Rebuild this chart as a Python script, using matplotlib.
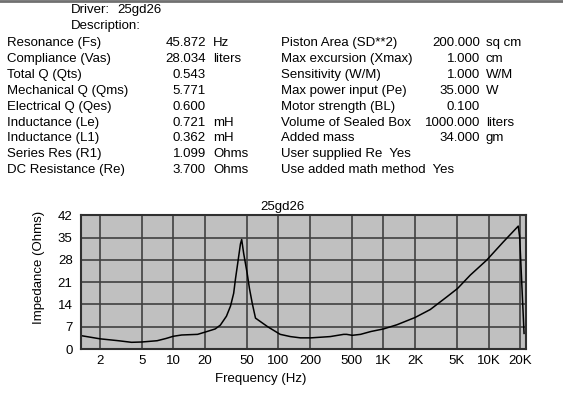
import matplotlib
matplotlib.use("Agg")
import matplotlib.pyplot as plt
from matplotlib.lines import Line2D

plt.rcParams['font.family'] = ['Liberation Sans', 'DejaVu Sans']
plt.rcParams['font.size'] = 9.5

W, H = 563, 420

# driver parameters
driver_name = "25gd26"
left_labels = ["Resonance (Fs)", "Compliance (Vas)", "Total Q (Qts)", "Mechanical Q (Qms)",
               "Electrical Q (Qes)", "Inductance (Le)", "Inductance (L1)", "Series Res (R1)",
               "DC Resistance (Re)"]
left_values = ["45.872", "28.034", "0.543", "5.771", "0.600", "0.721", "0.362", "1.099", "3.700"]
left_units = ["Hz", "liters", "", "", "", "mH", "mH", "Ohms", "Ohms"]
right_labels = ["Piston Area (SD**2)", "Max excursion (Xmax)", "Sensitivity (W/M)",
                "Max power input (Pe)", "Motor strength (BL)", "Volume of Sealed Box", "Added mass"]
right_values = ["200.000", "1.000", "1.000", "35.000", "0.100", "1000.000", "34.000"]
right_units = ["sq cm", "cm", "W/M", "W", "", "liters", "gm"]
right_flags = ["User supplied Re  Yes", "Use added math method  Yes"]

# impedance curve
freq = [1.32, 2, 3, 4, 5, 7, 8.5, 10, 12, 17, 20, 25, 28, 32, 35, 37.5, 39, 41, 43.5, 44.7,
        46.7, 50.4, 53, 56.3, 60.5, 79, 104, 130, 162, 204, 311, 418, 446, 505, 605, 760,
        1000, 1340, 2000, 2790, 4020, 5070, 6700, 9600, 13800, 19200, 19800, 20600, 21300,
        21800]
imped = [4.2, 3.2, 2.6, 2.1, 2.2, 2.6, 3.3, 4.0, 4.4, 4.6, 5.3, 6.3, 7.5, 10.3, 13.5, 17.5,
         22, 27, 33, 34.4, 30, 23.8, 19, 14.4, 9.7, 7.0, 4.6, 3.9, 3.5, 3.5, 3.9, 4.6, 4.6,
         4.3, 4.6, 5.5, 6.3, 7.6, 9.9, 12.4, 16.4, 19, 23.2, 27.9, 33.6, 38.6, 35.2, 22.7,
         12.2, 4.9]

xticks = [2, 5, 10, 20, 50, 100, 200, 500, 1000, 2000, 5000, 10000, 20000]
xtick_labels = ["2", "5", "10", "20", "50", "100", "200", "500", "1K", "2K", "5K", "10K", "20K"]
yticks = [0, 7, 14, 21, 28, 35, 42]


def fx(x):
    return x / W


def fy(y):
    return 1 - y / H


fig = plt.figure(figsize=(W / 100, H / 100), dpi=100)
fig.patch.set_facecolor('white')

# top border strip
fig.add_artist(Line2D([0, 1], [fy(1), fy(1)], color='#707070', lw=2))

fig.text(fx(71), fy(10), "Driver:", va='center')
fig.text(fx(117), fy(10), driver_name, va='center')
fig.text(fx(71), fy(26), "Description:", va='center')

row_y = [43 + 15.9 * i for i in range(9)]
for i, y in enumerate(row_y):
    fig.text(fx(7), fy(y), left_labels[i], va='center')
    fig.text(fx(206), fy(y), left_values[i], va='center', ha='right')
    if left_units[i]:
        fig.text(fx(213), fy(y), left_units[i], va='center')

for i, lab in enumerate(right_labels):
    y = row_y[i]
    fig.text(fx(281), fy(y), lab, va='center')
    fig.text(fx(480), fy(y), right_values[i], va='center', ha='right')
    if right_units[i]:
        fig.text(fx(486), fy(y), right_units[i], va='center')
for j, lab in enumerate(right_flags):
    fig.text(fx(281), fy(row_y[7 + j]), lab, va='center')

# chart
x0, x1, y0, y1 = 81, 525.7, 215.3, 349
ax = fig.add_axes([fx(x0), fy(y1), (x1 - x0) / W, (y1 - y0) / H])
ax.set_facecolor('#c0c0c0')
ax.set_xscale('log')
ax.set_xlim(1.32, 22600)
ax.set_ylim(0, 42)
ax.plot(freq, imped, color='black', lw=1.1)
ax.set_xticks(xticks)
ax.set_xticklabels(xtick_labels)
ax.minorticks_off()
ax.set_yticks(yticks)
ax.grid(True, color='#404040', lw=1.2)
ax.set_axisbelow(True)
ax.tick_params(length=0, labelsize=9.5)
ax.tick_params(axis='y', pad=6)
ax.tick_params(axis='x', pad=4)
for s in ax.spines.values():
    s.set_color('#303030')
    s.set_linewidth(1.5)

fig.text(fx(282), fy(207), driver_name, ha='center', va='center')
fig.text(fx(261), fy(379), "Frequency (Hz)", ha='center', va='center')
fig.text(fx(39), fy(267), "Impedance (Ohms)", ha='center', va='center', rotation=90)

fig.savefig("out.png", dpi=100)
